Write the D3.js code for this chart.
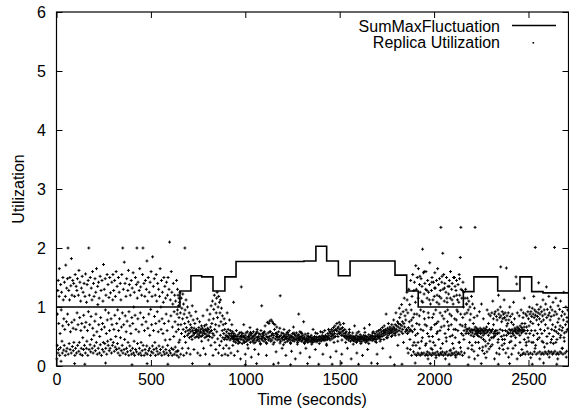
<!DOCTYPE html>
<html>
<head>
<meta charset="utf-8">
<script src="https://d3js.org/d3.v7.min.js"></script>
<style>
    body { margin: 0; background: #fff; }
    text { font-family: "Liberation Sans", Arial, sans-serif; font-size: 16px; fill: #000; }
</style>
</head>
<body>
<div id="chart"></div>
<script>
const xTicks = [0, 500, 1000, 1500, 2000, 2500];
const yTicks = [0, 1, 2, 3, 4, 5, 6];
const seriesNames = ["SumMaxFluctuation", "Replica Utilization"];

// SumMaxFluctuation, step after each time
const stepTimes  = [0, 654, 712, 769, 829, 892, 951, 1311, 1374, 1431, 1493, 1555, 1793, 1855, 1916, 2155, 2211, 2337, 2455, 2517, 2577, 2712];
const stepValues = [1.0, 1.27, 1.53, 1.51, 1.27, 1.51, 1.77, 1.78, 2.03, 1.78, 1.53, 1.78, 1.54, 1.27, 1.0, 1.26, 1.51, 1.27, 1.51, 1.26, 1.24, 1.24];

// Replica Utilization, "seconds:utilization*100"
const replicaRaw = [
"2:12 4:35 5:88 7:128 8:22 9:145 11:28 12:72 14:118 15:165 17:18 19:55 21:31 22:138 24:8 25:95 27:125 29:42 31:22 33:68 34:150 36:112 38:27 39:80 41:35 42:142 44:62 46:18 47:118 49:171 51:25 53:75 54:132 56:30 58:148 59:88 61:200 62:20 64:70 65:128 67:38 69:112 71:150 72:28 74:58 76:136 78:22 79:182 81:74 82:120 84:33 86:145 88:64 89:26 91:140 92:40 94:78 96:118 97:18 99:155",
"101:30 103:62 104:135 106:22 108:128 109:90 111:148 112:35 114:70 116:120 118:25 119:162 121:40 123:82 124:142 126:20 128:110 129:60 131:30 132:132 134:72 136:152 137:18 139:48 141:125 143:28 144:86 146:140 148:35 149:66 151:118 153:22 154:156 156:74 158:30 159:108 161:42 162:138 164:60 166:18 168:145 169:92 171:200 172:28 174:120 176:70 178:36 179:150 181:24 183:84 184:132 186:45 188:112 189:30 191:160 192:64 194:22 196:140 198:52 199:118",
"201:34 203:76 204:148 206:26 208:125 209:88 211:40 212:165 214:58 216:20 218:135 219:104 221:30 223:142 224:70 226:115 228:22 229:50 231:152 232:36 234:82 236:128 238:18 239:62 241:145 243:28 244:72 246:110 248:40 249:172 251:24 253:130 254:66 256:38 258:148 259:95 261:30 262:120 264:55 266:20 268:155 269:78 271:42 273:138 274:35 276:90 278:116 279:26 281:60 282:150 284:30 286:124 288:45 289:80 291:22 293:142 294:70 296:35 298:112 299:155",
"301:40 303:128 304:62 306:25 308:145 309:86 311:32 312:118 314:50 316:160 318:28 319:72 321:135 323:38 324:95 326:22 328:150 329:60 331:30 332:125 334:80 336:18 338:140 339:48 341:112 343:26 344:66 346:155 348:35 349:90 351:200 352:22 354:130 356:70 358:28 359:176 361:45 363:140 364:85 366:20 368:118 369:58 371:30 372:148 374:76 376:24 378:128 379:40 381:162 383:18 384:92 386:138 388:34 389:68 391:120 393:26 394:55 396:145 398:20 399:82",
"401:132 403:30 404:72 406:158 408:22 409:100 411:42 412:125 414:18 416:86 418:150 419:28 421:62 423:138 424:24 426:200 428:115 429:38 431:80 432:142 434:20 436:58 438:128 439:30 441:165 443:22 444:90 446:134 448:40 449:18 451:120 453:70 454:26 456:155 458:200 459:35 461:82 463:140 464:18 466:60 468:118 469:28 471:145 473:22 474:75 476:130 478:34 479:178 481:20 483:110 484:64 486:150 488:26 489:88 491:125 493:30 494:52 496:142 498:18 499:96",
"501:160 503:24 504:70 506:118 508:34 509:185 511:22 513:135 514:60 516:28 518:148 519:84 521:40 523:120 524:18 526:72 528:155 529:30 531:110 533:25 534:92 536:140 538:20 539:58 541:130 543:34 544:76 546:118 548:22 549:165 551:28 553:100 554:62 556:145 558:18 559:80 561:125 563:32 564:55 566:108 568:24 569:150 571:72 573:20 574:135 576:44 578:115 579:28 581:88 583:142 584:22 586:60 588:120 589:35 591:150 593:18 594:76 596:130 598:26 599:210",
"601:45 603:112 604:22 606:85 608:160 609:30 611:125 613:18 614:66 616:105 618:28 619:140 621:50 623:92 624:20 626:120 628:75 629:32 631:110 633:24 634:58 636:145 638:18 639:88 641:130 643:26 644:70 646:102 648:40 649:115",
"641:95 642:25 644:120 646:62 648:15 649:82 651:108 653:44 654:125 656:90 658:20 659:70 661:115 662:55 664:98 666:30 668:80 669:122 671:62 673:105 674:18 676:88 678:50 679:72 680:200 681:95 683:58 684:40 686:112 688:65 689:22 691:82 693:52 694:100 696:60 698:30 699:75 701:55 703:90 704:48 706:62 708:20 709:70 711:58 712:85 714:50 716:65 718:45 719:102 721:60 723:52 724:78 726:56 728:28 729:64 731:55 733:72 734:48 736:60 738:92 739:57",
"741:62 743:50 744:58 746:80 748:22 749:54 751:60 753:48 754:65 756:52 758:75 759:56 761:18 763:58 764:62 766:50 768:68 769:42 771:56 773:64 774:52 776:85 778:60 779:30 781:58 783:55 784:68 786:48 788:62 789:20 791:54 793:70 794:60 796:50 798:95 799:58 801:64 803:52 804:44 806:62 808:78 809:56 811:50 813:88 814:58 816:66 818:35 819:102 821:60 823:72 824:48 826:110 828:55 829:18 831:80 833:96 834:52 836:120 838:62 839:40",
"841:105 843:70 844:28 846:90 848:115 849:58 851:125 853:82 854:46 856:100 858:22 859:118 861:68 863:108 864:35 866:90 868:52 869:112 871:75 873:42 874:98 876:18 878:60 879:85 881:48 883:70 884:30 886:55 888:80 889:45 891:62 893:20 894:48 896:72 898:52 899:35 901:58 903:45 904:90 906:50 908:18 909:62 911:48 913:55 914:30 916:78 918:52 919:44 921:60 923:46 924:22 926:55 928:50 929:70 931:47 933:58 934:35 936:52 938:108 939:45",
"937:48 939:42 940:55 942:18 944:50 945:45 947:52 949:40 951:47 953:60 955:44 957:50 959:45 960:25 962:53 964:42 967:47 969:56 971:40 973:50 975:12 977:45 979:134 980:52 982:48 984:38 987:55 989:44 991:50 992:70 994:42 997:48 999:52 1000:20 1002:46 1004:56 1007:42 1009:49 1011:58 1013:45 1015:30 1017:50 1019:44 1021:54 1023:47 1025:65 1027:40 1029:52 1031:46 1032:15 1034:55 1037:48 1039:42 1041:50 1043:58 1045:44 1047:52 1049:46 1050:28 1052:40 1054:54",
"1057:49 1059:56 1061:43 1063:62 1065:48 1067:45 1069:50 1070:20 1072:55 1074:42 1077:47 1079:53 1081:38 1083:60 1085:46 1087:102 1088:50 1090:44 1092:55 1094:48 1097:52 1099:42 1101:58 1103:47 1105:68 1107:45 1109:54 1111:40 1112:18 1114:50 1117:74 1119:48 1121:56 1123:44 1125:72 1127:50 1129:76 1131:46 1133:58 1135:42 1137:78 1139:52 1141:44 1143:75 1145:55 1147:48 1149:72 1151:52 1153:40 1155:62 1157:70 1159:46 1161:55 1163:24 1165:50 1167:66 1169:44 1171:53 1173:48 1175:5",
"1177:58 1179:45 1181:50 1183:64 1185:119 1187:42 1189:52 1191:47 1193:56 1195:30 1197:48 1199:44 1201:55 1203:50 1205:62 1207:45 1209:52 1211:40 1213:48 1215:18 1217:54 1219:46 1221:50 1223:42 1225:57 1227:47 1229:53 1231:44 1233:60 1235:49 1237:45 1239:40 1241:52 1243:48 1245:25 1247:50 1249:43 1251:55 1253:46 1255:66 1257:48 1259:42 1261:53 1263:45 1265:12 1267:51 1269:46 1271:56 1273:44 1275:49 1277:40 1279:52 1281:47 1283:88 1285:45",
"1283:53 1285:43 1287:49 1289:58 1291:22 1293:46 1295:50 1297:42 1299:55 1301:48 1303:44 1305:52 1307:47 1309:75 1311:40 1313:49 1315:45 1317:54 1319:42 1321:30 1323:47 1325:43 1327:51 1329:46 1331:40 1333:45 1335:50 1337:42 1339:48 1341:15 1343:44 1345:49 1347:41 1349:52 1351:46 1353:43 1355:48 1357:40 1359:62 1361:45 1363:47 1365:42 1367:50 1369:44 1371:28 1373:46 1375:41 1377:49 1379:44 1381:55 1383:42 1385:48 1387:45 1389:3 1391:50 1393:44 1395:50 1397:46 1399:58 1401:42",
"1403:48 1405:44 1407:52 1409:46 1411:20 1413:45 1415:50 1417:43 1419:48 1421:60 1423:46 1425:52 1427:44 1429:49 1431:35 1433:50 1435:45 1437:55 1439:48 1441:62 1443:52 1445:47 1447:58 1449:44 1451:15 1453:55 1455:50 1457:62 1459:46 1461:53 1463:58 1465:52 1467:65 1469:48 1471:60 1473:55 1475:68 1477:50 1479:62 1481:25 1483:60 1485:72 1487:54 1489:64 1491:50 1493:66 1495:58 1497:74 1499:55 1501:62 1503:70 1505:56 1507:63 1509:52 1511:20 1513:58 1515:65 1517:52 1519:60 1521:72",
"1523:55 1525:50 1527:62 1529:48 1531:56 1533:52 1535:58 1537:46 1539:50 1541:30 1543:48 1545:54 1547:44 1549:50 1551:62 1553:47 1555:52 1557:42 1559:49 1561:12 1563:46 1565:51 1567:44 1569:56 1571:48 1573:43 1575:50 1577:46 1579:68 1581:42 1583:48 1585:45 1587:52 1589:40 1591:22 1593:47 1595:43 1597:50 1599:46 1601:58 1603:44 1605:49 1607:42 1609:53 1611:47 1613:45 1615:50 1617:41 1619:47 1621:18 1623:48 1625:44 1627:52 1629:46 1631:64",
"1630:43 1632:49 1634:45 1636:51 1638:40 1640:47 1642:44 1644:50 1646:42 1648:28 1650:48 1652:45 1654:53 1656:47 1658:70 1660:44 1662:50 1664:46 1666:52 1668:5 1670:48 1672:43 1674:51 1676:46 1678:58 1680:45 1682:50 1684:47 1686:55 1688:42 1690:49 1692:52 1694:45 1696:58 1698:20 1700:50 1702:54 1704:47 1706:60 1708:52 1710:48 1712:56 1714:50 1716:62 1718:45 1720:53 1722:58 1724:50 1726:65 1728:30",
"1730:55 1732:60 1734:52 1736:68 1738:57 1740:58 1742:62 1744:54 1746:88 1748:48 1750:60 1752:56 1754:64 1756:52 1758:72 1760:58 1762:62 1764:55 1766:66 1768:15 1770:60 1772:64 1774:57 1776:70 1778:52 1780:62 1782:58 1784:66 1786:78 1788:55 1790:64 1792:60 1794:70 1796:56 1798:90 1800:62 1802:68 1804:58 1806:75 1808:35 1810:66 1812:72 1814:60 1816:98 1818:82 1820:64 1822:70 1824:88 1826:58 1828:104 1830:68 1832:75 1834:62 1836:92 1838:40 1840:72 1842:115 1844:66 1846:85 1848:58 1850:78 1852:95 1854:62 1856:125 1858:30",
"1856:60 1857:112 1859:55 1861:90 1863:22 1864:65 1866:130 1867:58 1869:75 1871:104 1873:62 1874:28 1876:145 1877:60 1879:95 1881:18 1883:118 1884:68 1886:58 1887:155 1889:82 1891:24 1893:128 1894:40 1896:142 1897:62 1899:20 1901:108 1903:170 1904:35 1906:130 1907:18 1909:88 1911:150 1913:55 1914:22 1916:115 1917:165 1919:20 1921:70 1923:138 1924:30 1926:125 1927:18 1929:95 1931:148 1933:42 1934:22 1936:135 1937:20 1939:198 1940:108 1942:60 1944:158 1946:22 1947:122 1949:80 1951:140 1953:18 1954:35",
"1956:130 1957:160 1959:20 1961:68 1963:115 1964:24 1966:145 1967:18 1969:90 1971:125 1973:50 1974:22 1976:138 1977:175 1979:20 1981:105 1983:62 1984:30 1986:128 1987:18 1989:150 1991:82 1993:22 1994:112 1996:40 1997:142 1999:20 2001:118 2003:70 2004:158 2006:22 2007:132 2009:95 2011:18 2013:145 2014:55 2016:120 2017:24 2019:165 2021:75 2023:20 2024:138 2026:105 2027:18 2029:148 2031:60 2033:128 2034:22 2036:235 2037:115 2039:20 2041:142 2043:85 2044:24 2046:191 2047:130 2049:18 2051:155 2053:68 2054:110",
"2056:22 2057:140 2059:92 2061:20 2063:125 2064:48 2066:150 2067:24 2069:108 2071:75 2073:18 2074:135 2076:62 2077:122 2079:20 2081:145 2083:88 2084:26 2086:115 2087:160 2089:18 2091:70 2093:130 2094:22 2096:140 2097:52 2099:20 2101:105 2103:150 2104:30 2106:118 2107:22 2109:80 2111:135 2113:18 2114:62 2116:128 2117:24 2119:145 2121:95 2123:20 2124:112 2126:60 2127:138 2129:22 2131:108 2133:155 2134:40 2136:120 2137:20 2139:184 2141:88 2142:235 2143:130 2144:24 2147:115 2149:68 2151:18 2153:142 2154:52 2156:100 2157:125 2159:60 2161:22 2163:88 2164:115 2166:70 2167:130 2169:55 2171:105 2173:62 2174:90 2217:235",
"2173:105 2174:58 2176:115 2178:62 2180:30 2181:95 2183:55 2184:110 2186:64 2188:40 2190:100 2191:60 2193:58 2194:88 2196:52 2198:118 2200:62 2201:35 2203:56 2204:105 2206:60 2208:72 2210:50 2211:25 2213:62 2214:98 2216:54 2218:66 2220:40 2221:58 2223:60 2224:55 2226:64 2228:85 2230:52 2231:58 2233:62 2234:56 2236:60 2238:50 2240:92 2241:30 2243:58 2244:64 2246:55 2248:60 2250:48 2251:105 2253:62 2254:56 2256:26 2258:60 2260:52 2261:80 2263:58 2264:64 2266:21 2268:55 2270:60 2271:42",
"2273:62 2274:34 2276:56 2278:66 2280:24 2281:95 2283:58 2284:60 2286:38 2288:52 2290:88 2291:29 2293:62 2294:44 2296:56 2298:85 2300:33 2301:60 2303:48 2304:58 2306:90 2308:36 2310:62 2311:110 2313:48 2314:80 2316:55 2318:50 2320:88 2321:58 2323:52 2324:92 2326:60 2328:55 2330:84 2331:22 2333:60 2334:78 2336:55 2338:95 2340:45 2341:120 2343:88 2344:56 2346:30 2348:82 2350:62 2351:100 2353:168 2354:85 2356:50 2358:75 2360:35 2361:92 2363:60 2364:80 2366:28 2368:88 2370:52 2371:112",
"2373:82 2374:45 2376:90 2378:60 2380:22 2381:78 2383:166 2384:52 2386:85 2388:58 2390:72 2391:30 2393:90 2394:55 2396:78 2398:62 2400:40 2401:100 2403:56 2404:84 2406:60 2408:50 2410:74 2411:20 2413:62 2414:88 2416:55 2418:58 2420:70 2421:108 2423:52 2424:60 2426:80 2428:64 2430:35 2431:58 2433:62 2434:151 2436:56 2438:139 2440:66 2441:90 2443:60 2444:55 2446:64 2448:22 2450:58 2451:85 2453:62 2454:52 2456:68 2458:18 2460:60 2461:95 2463:56 2464:65 2466:72 2468:20 2470:60 2471:82",
"2470:62 2471:58 2473:90 2475:22 2477:66 2478:115 2480:60 2481:72 2483:20 2485:88 2487:55 2488:40 2490:66 2491:85 2493:24 2495:60 2497:92 2498:48 2500:80 2501:20 2503:68 2505:100 2507:55 2508:88 2510:22 2511:75 2513:92 2515:60 2517:84 2518:40 2520:98 2521:20 2523:72 2525:88 2527:52 2528:118 2530:82 2531:24 2533:95 2535:60 2536:201 2537:86 2538:35 2540:92 2541:20 2543:78 2545:104 2547:55 2548:84 2550:22 2551:90 2553:70 2554:141 2555:96 2557:48 2558:80",
"2560:24 2561:88 2563:62 2565:100 2567:20 2568:75 2570:92 2571:55 2573:22 2575:85 2577:112 2578:40 2580:78 2581:20 2583:95 2585:60 2587:88 2588:24 2590:70 2591:105 2593:22 2595:134 2597:82 2598:50 2600:96 2601:20 2603:64 2605:86 2607:25 2608:118 2610:55 2611:90 2613:22 2615:78 2617:100 2618:40 2620:84 2621:24 2623:62 2625:95 2627:20 2628:70 2630:108 2631:50 2633:22 2635:86 2637:60 2638:201",
"2640:25 2641:92 2643:66 2645:115 2647:20 2648:58 2650:88 2651:45 2653:22 2655:74 2657:102 2658:55 2660:20 2661:80 2663:62 2665:96 2667:24 2668:68 2670:110 2671:52 2673:22 2675:85 2677:60 2678:30 2680:92 2681:65 2683:20 2685:78 2687:125 2688:48 2690:56 2692:88 2694:22 2696:70 2698:100 2700:58 2702:25 2704:82 2706:62 2708:95",
"1872:45 1880:78 1888:35 1895:88 1902:52 1908:72 1915:40 1922:85 1930:62 1938:48 1945:92 1952:70 1958:38 1965:55 1972:82 1978:42 1985:65 1992:50 1998:88 2005:35 2012:72 2018:58 2025:45 2032:90 2038:66 2045:38 2052:80 2058:55 2065:42 2072:95 2078:68 2085:50 2092:85 2098:38 2105:62 2112:48 2118:78 2125:92 2132:40 2138:70 2145:55 2152:82 2158:45 2165:66",
"1925:152 1935:110 1948:160 1962:128 1975:112 1988:142 2002:132 2015:108 2028:118 2042:152 2055:132 2068:115 2080:135 2095:112 2108:150 2120:120 2135:148 2150:128",
"1968:12 1990:28 2010:14 2035:30 2060:12 2088:27 2115:15 2140:31 2185:15 2200:28 2215:12 2232:18 2258:32 2275:14 2320:12 2345:20 2372:38 2395:15 2418:30 2440:12 2465:28 2488:35 2512:14 2535:30 2560:12 2585:32 2610:15 2632:38 2655:12 2680:30 2700:15",
"2190:78 2212:82 2235:40 2262:45 2288:72 2315:70 2338:40 2362:45 2385:68 2408:42 2432:48 2455:40 2478:45 2502:42 2525:40 2548:45 2572:42 2598:38 2622:45 2645:40 2668:48 2690:42 2705:75",
"962:38 978:57 996:40 1012:36 1028:57 1046:39 1062:58 1080:37 1096:56 1113:38 1130:58 1148:37 1166:56 1184:39 1202:36 1222:57 1240:38 1258:56 1276:37 1296:57 1314:38 1332:55 1352:37 1372:56 1392:38 1410:57 1430:37 1450:58 1470:40 1490:42 1512:44 1532:40 1552:57 1572:37 1592:56 1612:38 1634:57 1654:38 1674:56 1694:40 1714:42 1734:45 1754:48 1774:50 1794:52 1814:53 1834:55",
"96:4 150:3 260:5 400:2 480:4 590:3 720:4 810:3 1000:2 1060:4 1150:3 1240:2 1330:4 1460:3 1510:5 1600:3 1700:4 1790:2 1830:3 1900:5 1980:4 2080:3 2180:2 2250:4 2340:3 2400:4 2520:3 2580:5 2650:3"
].join(" ");

const replica = replicaRaw.trim().split(/\s+/).map(s => {
    const [t, u] = s.split(":");
    return { t: +t, u: +u / 100 };
});

const width = 569, height = 415;
const plotLeft = 56.5, plotRight = 568.5, plotTop = 12, plotBottom = 366;

const svg = d3.select("#chart")
    .append("svg")
        .attr("width", width)
        .attr("height", height);

const x = d3.scaleLinear()
    .domain([0, 2712])
    .range([plotLeft, plotRight]);

const y = d3.scaleLinear()
    .domain([0, 6])
    .range([plotBottom, plotTop]);

// scatter
svg.append("g")
    .selectAll("path")
    .data(replica)
    .enter()
    .append("path")
        .attr("d", d => `M${x(d.t) - 1.5},${y(d.u)}h3M${x(d.t)},${y(d.u) - 1.5}v3`)
        .attr("stroke", "#000")
        .attr("stroke-width", 1);

// step line
const steps = stepTimes.map((t, i) => ({ t, v: stepValues[i] }));
svg.append("path")
    .datum(steps)
    .attr("fill", "none")
    .attr("stroke", "#000")
    .attr("stroke-width", 1.6)
    .attr("d", d3.line()
        .curve(d3.curveStepAfter)
        .x(d => x(d.t))
        .y(d => y(d.v)));

// axes, ticks inward on all sides
const styleAxis = g => {
    g.select(".domain").remove();
    g.selectAll("line").attr("stroke", "#000");
    g.selectAll("text")
        .attr("font-size", 16)
        .attr("font-family", "\"Liberation Sans\", Arial, sans-serif")
        .attr("fill", "#000");
};

svg.append("g")
    .attr("transform", `translate(0,${plotBottom})`)
    .call(d3.axisBottom(x).tickValues(xTicks).tickSize(-6).tickPadding(8).tickFormat(d3.format("d")))
    .call(styleAxis);

svg.append("g")
    .attr("transform", `translate(0,${plotTop})`)
    .call(d3.axisTop(x).tickValues(xTicks).tickSize(-6).tickFormat(""))
    .call(styleAxis);

svg.append("g")
    .attr("transform", `translate(${plotLeft},0)`)
    .call(d3.axisLeft(y).tickValues(yTicks).tickSize(-6).tickPadding(10.5).tickFormat(d3.format("d")))
    .call(styleAxis);

svg.append("g")
    .attr("transform", `translate(${plotRight},0)`)
    .call(d3.axisRight(y).tickValues(yTicks).tickSize(-6).tickFormat(""))
    .call(styleAxis);

svg.append("rect")
    .attr("x", plotLeft)
    .attr("y", plotTop)
    .attr("width", plotRight - plotLeft)
    .attr("height", plotBottom - plotTop)
    .attr("fill", "none")
    .attr("stroke", "#000")
    .attr("stroke-width", 1.2);

// axis titles
svg.append("text")
    .attr("x", 312)
    .attr("y", 404.5)
    .attr("text-anchor", "middle")
    .text("Time (seconds)");

svg.append("text")
    .attr("transform", `translate(24,${(plotTop + plotBottom) / 2}) rotate(-90)`)
    .attr("text-anchor", "middle")
    .text("Utilization");

// legend
const legend = svg.append("g");

legend.append("text")
    .attr("x", 500)
    .attr("y", 31.5)
    .attr("text-anchor", "end")
    .text(seriesNames[0]);

legend.append("line")
    .attr("x1", 512)
    .attr("x2", 556)
    .attr("y1", 25.5)
    .attr("y2", 25.5)
    .attr("stroke", "#000")
    .attr("stroke-width", 1.6);

legend.append("text")
    .attr("x", 500)
    .attr("y", 47.5)
    .attr("text-anchor", "end")
    .text(seriesNames[1]);

legend.append("rect")
    .attr("x", 532.5)
    .attr("y", 42)
    .attr("width", 1.6)
    .attr("height", 1.6)
    .attr("fill", "#000");
</script>
</body>
</html>
